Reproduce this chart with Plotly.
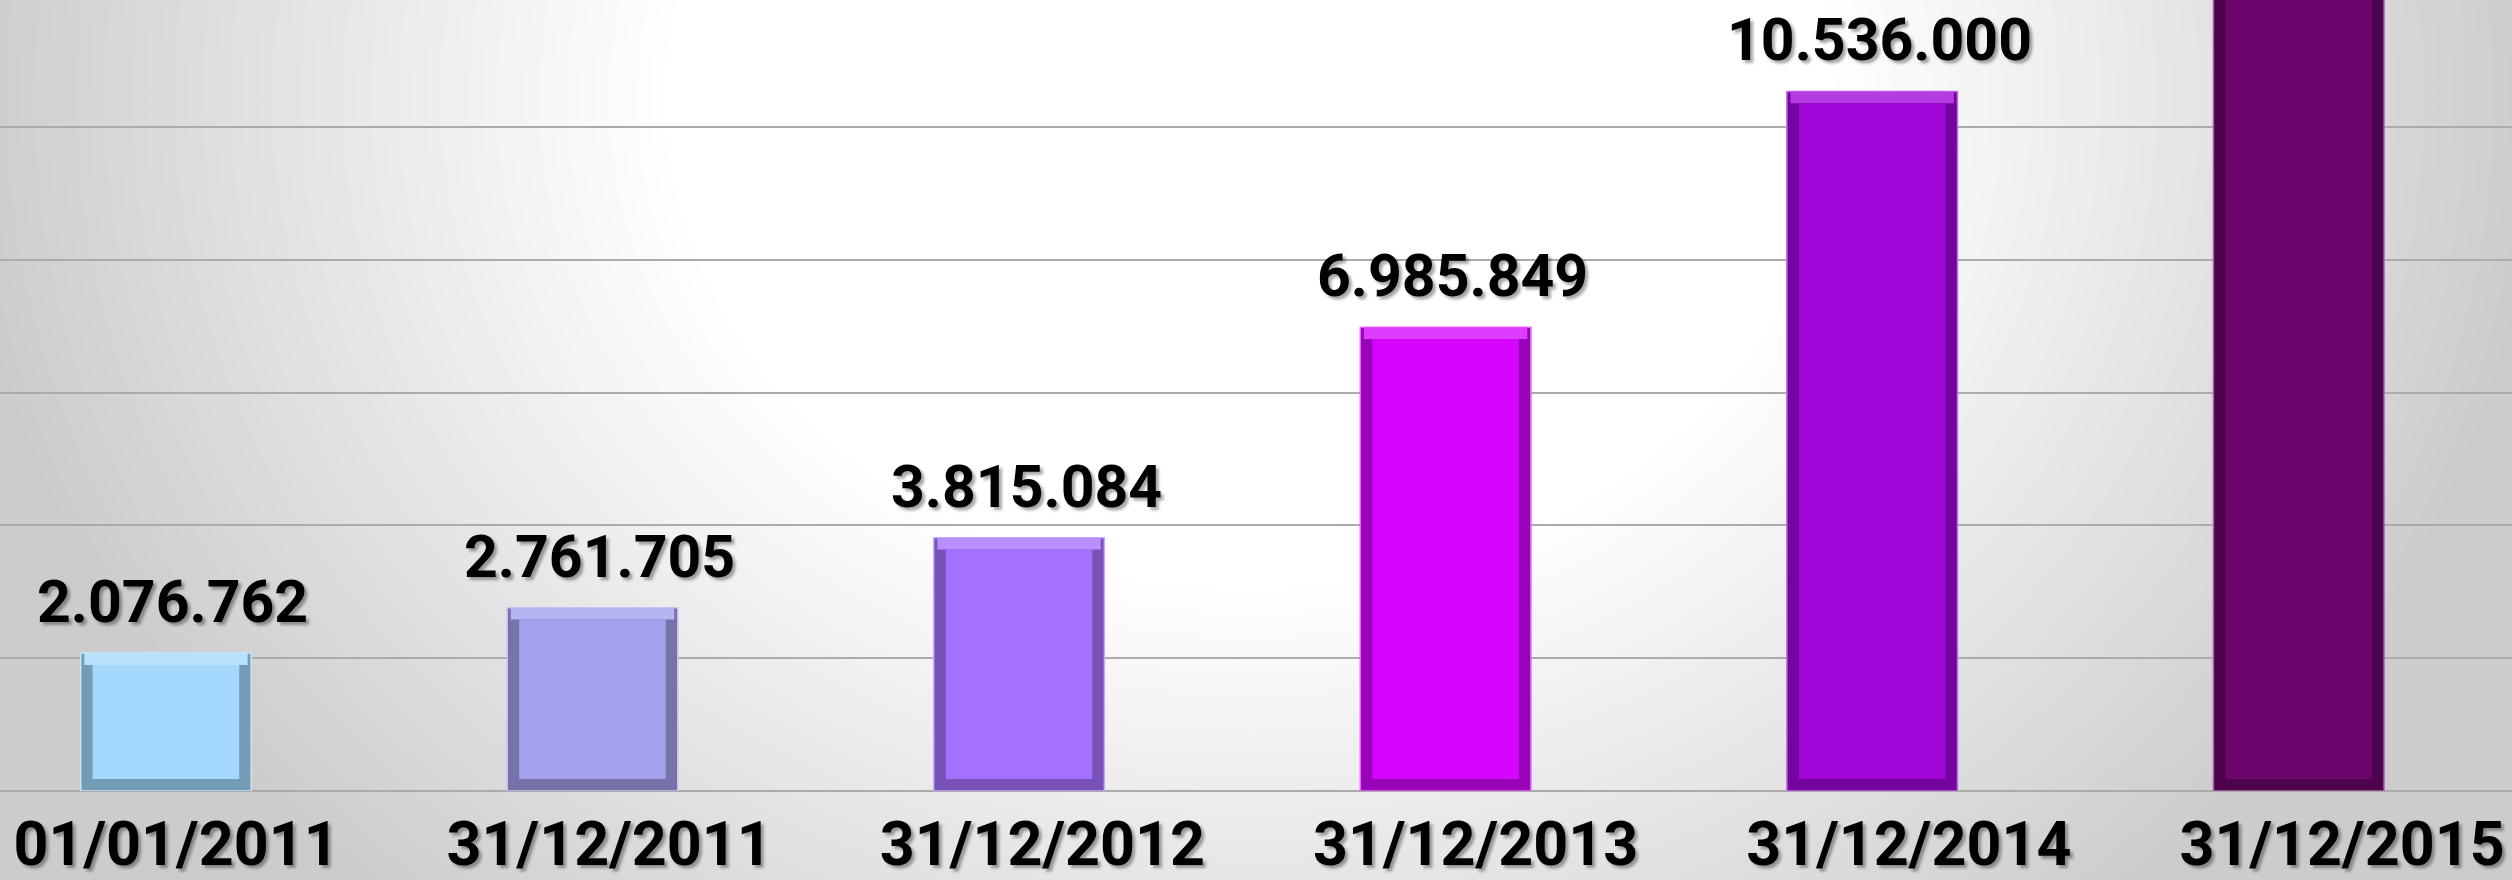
import plotly.graph_objects as go

# ---- data ----
categories = ["01/01/2011", "31/12/2011", "31/12/2012", "31/12/2013", "31/12/2014", "31/12/2015"]
values = [2076762, 2761705, 3815084, 6985849, 10536000, 14000000]  # last bar runs off the top; estimated
bar_colors = ["#A3D8FC", "#A3A0EC", "#A370FF", "#D505FF", "#A005D8", "#6B046B"]

W, H = 2512, 880
B = 83              # bottom margin (px)
PH = H - B          # plot height
Y_MAX = 11913000
X_RANGE = [-0.389, 5.5]          # bar axis
X2_RANGE = [-0.4063, 5.3924]     # label axis (labels slightly more spread out)
BAR_W = 0.4
PX_X = W / (X_RANGE[1] - X_RANGE[0])   # px per category
PX_Y = PH / Y_MAX                       # px per unit
BEVEL = 12                               # bevel thickness in px

FONT = "Roboto, 'Open Sans', 'DejaVu Sans', sans-serif"
SHADOW = "3px 3px 3px rgba(0,0,0,0.35)"


def fmt(v):
    return f"{v:,}".replace(",", ".")


def mix(hexc, other, t):
    h = hexc.lstrip("#")
    r, g, b = (int(h[i:i + 2], 16) for i in (0, 2, 4))
    return "rgb({},{},{})".format(*(round(c + (oc - c) * t) for c, oc in zip((r, g, b), other)))


dark = [mix(c, (0, 0, 0), 0.28) for c in bar_colors]
light = [mix(c, (255, 255, 255), 0.22) for c in bar_colors]
edge = [mix(c, (255, 255, 255), 0.4) for c in bar_colors]
xs = list(range(len(categories)))
bx = BEVEL / PX_X
by = BEVEL / PX_Y

fig = go.Figure()
# outer frame (bevel sides)
fig.add_trace(go.Bar(x=xs, y=values, width=BAR_W,
                     marker=dict(color=dark, line=dict(color=edge, width=1.5)),
                     hoverinfo="skip", showlegend=False))
# top bevel (light)
fig.add_trace(go.Bar(x=xs, y=[by] * len(xs), base=[v - by for v in values], width=BAR_W - 0.6 * bx,
                     marker=dict(color=light, line=dict(width=0)),
                     hoverinfo="skip", showlegend=False))
# bar face
fig.add_trace(go.Bar(x=xs, y=[v - 2 * by for v in values], base=by, width=BAR_W - 2 * bx,
                     marker=dict(color=bar_colors, line=dict(width=0)),
                     hoverinfo="skip", showlegend=False))
# invisible trace to carry the label axis
fig.add_trace(go.Scatter(x=xs, y=[0] * len(xs), xaxis="x2", mode="markers",
                         marker=dict(opacity=0), hoverinfo="skip", showlegend=False))

# value labels
for i, v in enumerate(values):
    if v < Y_MAX:
        fig.add_annotation(x=i, y=v, text=fmt(v), showarrow=False, yanchor="bottom",
                           yshift=15, xshift=7,
                           font=dict(family=FONT, size=59, color="black", weight="bold",
                                     shadow=SHADOW))

# radial background gradient (concentric ellipses, one per grey level)
cx, cy = 1250, 100
rx, ry = 1300, 1100
shapes = []
g_out, g_in = 204, 255
for g in range(g_out + 1, g_in + 1):
    d = 0.45 + (g_in - g) / (g_in - g_out) * 0.55
    x0, x1 = (cx - d * rx) / W, (cx + d * rx) / W
    y0, y1 = 1 - (cy + d * ry) / PH, 1 - (cy - d * ry) / PH
    c = f"rgb({g},{g},{g})"
    shapes.append(dict(type="circle", xref="paper", yref="paper", x0=x0, x1=x1, y0=y0, y1=y1,
                       fillcolor=c, line=dict(width=0), layer="below"))

fig.update_layout(
    width=W, height=H,
    margin=dict(l=0, r=0, t=0, b=B),
    paper_bgcolor=f"rgb({g_out},{g_out},{g_out})",
    plot_bgcolor="rgba(0,0,0,0)",
    shapes=shapes,
    barmode="overlay",
    xaxis=dict(range=X_RANGE, showticklabels=False, showgrid=False, zeroline=False,
               showline=False, ticks=""),
    xaxis2=dict(range=X2_RANGE, overlaying="x", side="bottom", anchor="y",
                tickmode="array", tickvals=xs, ticktext=categories,
                showgrid=False, zeroline=False, showline=False, ticks="",
                ticklabelstandoff=12,
                tickfont=dict(family=FONT, size=61, color="black", weight="bold", shadow=SHADOW)),
    yaxis=dict(range=[0, Y_MAX], dtick=2000000, tick0=0, showticklabels=False,
               showgrid=True, gridcolor="#ABABAB", gridwidth=2,
               zeroline=True, zerolinecolor="#ABABAB", zerolinewidth=2),
)

fig.write_html("out.html", config={"displayModeBar": False},
               post_script="document.body.style.margin='0';")
